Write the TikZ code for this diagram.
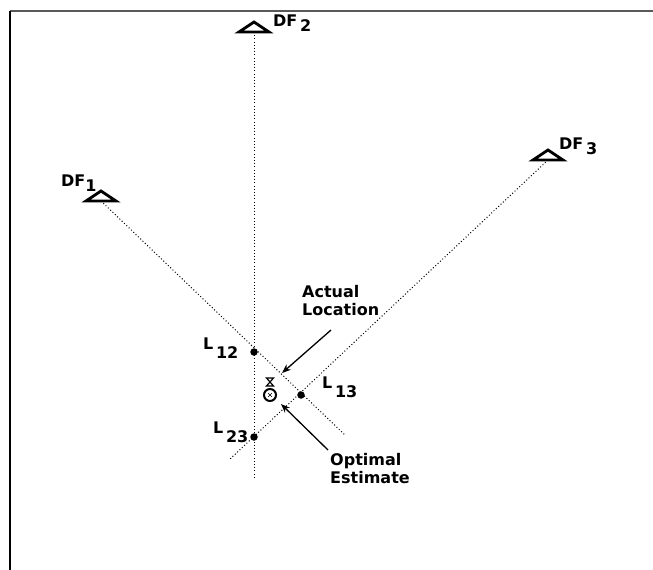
\documentclass[tikz,border=0pt]{standalone}
\usepackage{fontspec}
\setmainfont{DejaVu Sans}
\usetikzlibrary{arrows.meta}
\begin{document}
\begin{tikzpicture}[x=1pt,y=-1pt,
  dotline/.style={line width=1pt,dash pattern=on 1pt off 2.2pt},
  station/.style={line width=2.8pt,line join=miter},
  lbl/.style={inner sep=0pt,font=\bfseries\fontsize{16}{18}\selectfont},
  fix/.style={circle,fill=black,inner sep=0pt,minimum size=7.5pt},
  pointer/.style={line width=1.3pt,-{Stealth[length=9pt,width=7pt]}}]
\useasboundingbox (0,0) rectangle (653,570);
\draw[gray!70!black,line width=1.6pt] (10,11) -- (653,11);
\draw[line width=1.6pt] (10,11) -- (10,570);
% stations (base centres)
\coordinate (df1) at (101,201);
\coordinate (df2) at (254,32);
\coordinate (df3) at (548,160);
\coordinate (e1) at (345,435);
\coordinate (e2) at (254,478);
\coordinate (e3) at (230,459);
% bearing lines
\draw[dotline] (df1) -- (e1);
\draw[dotline] (df2) -- (e2);
\draw[dotline] (df3) -- (e3);
% triangles
\draw[station] (df1) ++(-15,0) -- ++(15,-10) -- ++(15,10) -- cycle;
\draw[station] (df2) ++(-15,0) -- ++(15,-10) -- ++(15,10) -- cycle;
\draw[station] (df3) ++(-15,0) -- ++(15,-10) -- ++(15,10) -- cycle;
\node[lbl,anchor=base west] (t1) at (61,186) {DF\raisebox{-5pt}{1}};
\node[lbl,anchor=base west] (t2) at (273,27) {DF\,\raisebox{-5pt}{2}};
\node[lbl,anchor=base west] (t3) at (559,149) {DF\,\raisebox{-5pt}{3}};
% intersections
\node[fix] (l12) at (254,352) {};
\node[fix] (l13) at (301,395) {};
\node[fix] (l23) at (254,437) {};
\node[lbl,anchor=base west] (tl12) at (203,349) {L\,\raisebox{-9pt}{12}};
\node[lbl,anchor=base west] (tl13) at (322,388) {L\,\raisebox{-9pt}{13}};
\node[lbl,anchor=base west] (tl23) at (213,433) {L\,\raisebox{-9pt}{23}};
% actual location marker (hourglass)
\coordinate (act) at (270,382);
\draw[line width=1.2pt] (act) ++(-3.5,-4) -- ++(7,0) -- ++(-7,8) -- ++(7,0) -- cycle;
% optimal estimate marker
\node[circle,draw,line width=2pt,minimum size=12pt,inner sep=0pt] (opt) at (270,395) {};
\draw[line width=0.6pt] (opt.center) ++(-2,-2) -- ++(4,4) ++(0,-4) -- ++(-4,4);
% annotations
\node[lbl,anchor=north west,align=left] (ta) at (302,285) {Actual\\Location};
\node[lbl,anchor=north west,align=left] (to) at (330,453) {Optimal\\Estimate};
\coordinate (pa) at (282,373);
\coordinate (po) at (281,404);
\coordinate (sa) at (331,330);
\coordinate (so) at (328,450);
\draw[pointer] (sa) -- (pa);
\draw[pointer] (so) -- (po);
\end{tikzpicture}
\end{document}
